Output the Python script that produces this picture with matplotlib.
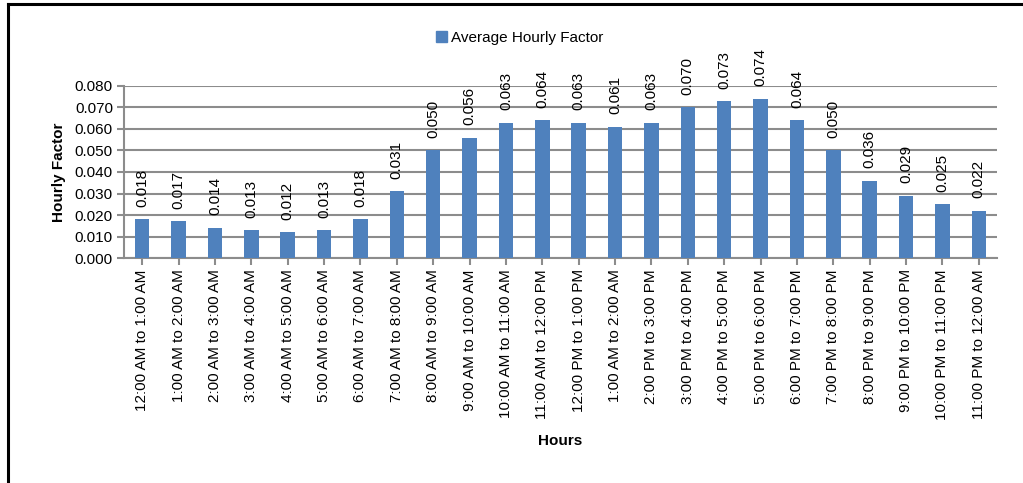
import matplotlib.pyplot as plt
from matplotlib.lines import Line2D
from matplotlib.patches import Patch

plt.rcParams["font.family"] = ["Liberation Sans", "DejaVu Sans"]

HOURS = [
    "12:00 AM to 1:00 AM", "1:00 AM to 2:00 AM", "2:00 AM to 3:00 AM",
    "3:00 AM to 4:00 AM", "4:00 AM to 5:00 AM", "5:00 AM to 6:00 AM",
    "6:00 AM to 7:00 AM", "7:00 AM to 8:00 AM", "8:00 AM to 9:00 AM",
    "9:00 AM to 10:00 AM", "10:00 AM to 11:00 AM", "11:00 AM to 12:00 PM",
    "12:00 PM to 1:00 PM", "1:00 AM to 2:00 AM", "2:00 PM to 3:00 PM",
    "3:00 PM to 4:00 PM", "4:00 PM to 5:00 PM", "5:00 PM to 6:00 PM",
    "6:00 PM to 7:00 PM", "7:00 PM to 8:00 PM", "8:00 PM to 9:00 PM",
    "9:00 PM to 10:00 PM", "10:00 PM to 11:00 PM", "11:00 PM to 12:00 AM",
]
FACTORS = [
    0.018, 0.017, 0.014, 0.013, 0.012, 0.013, 0.018, 0.031,
    0.050, 0.056, 0.063, 0.064, 0.063, 0.061, 0.063, 0.070,
    0.073, 0.074, 0.064, 0.050, 0.036, 0.029, 0.025, 0.022,
]
Y_TICKS = [0.0, 0.01, 0.02, 0.03, 0.04, 0.05, 0.06, 0.07, 0.08]

BAR_COLOR = "#4F81BD"
GRID_COLOR = "#8C8C8C"

fig = plt.figure(figsize=(10.23, 4.83), dpi=100)
ax = fig.add_axes([0.1212, 0.4658, 0.8534, 0.3562])

x = list(range(len(HOURS)))
ax.bar(x, FACTORS, width=0.4, color=BAR_COLOR, zorder=3)

for xi, v in zip(x, FACTORS):
    ax.annotate(f"{v:.3f}", (xi, v), xytext=(0, 9), textcoords="offset points",
                rotation=90, ha="center", va="bottom", fontsize=11)

ax.set_xlim(-0.5, len(HOURS) - 0.5)
ax.set_ylim(0, 0.08)
ax.set_yticks(Y_TICKS)
ax.set_yticklabels([f"{t:.3f}" for t in Y_TICKS], fontsize=11)
ax.set_xticks(x)
ax.set_xticklabels(HOURS, rotation=90, fontsize=11)

ax.grid(axis="y", color=GRID_COLOR, linewidth=1.5, zorder=0)
for side in ["top", "right"]:
    ax.spines[side].set_visible(False)
for side in ["left", "bottom"]:
    ax.spines[side].set_color(GRID_COLOR)
    ax.spines[side].set_linewidth(1.5)
ax.tick_params(axis="both", color=GRID_COLOR, width=1.5, length=5, pad=3)

ax.set_ylabel("Hourly Factor", fontsize=11, fontweight="bold", labelpad=6)
ax.set_xlabel("Hours", fontsize=11, fontweight="bold", labelpad=10)

handles = [Patch(color=BAR_COLOR, label="Average Hourly Factor")]
fig.legend(handles=handles, loc="center", bbox_to_anchor=(0.508, 0.921),
           frameon=False, fontsize=11, handlelength=0.7, handleheight=0.7,
           handletextpad=0.3)

# outer frame (top and left edges only)
fig.add_artist(Line2D([0.008, 1.0], [0.991, 0.991], color="black", lw=2.2,
                      transform=fig.transFigure))
fig.add_artist(Line2D([0.008, 0.008], [0.0, 0.991], color="black", lw=2.2,
                      transform=fig.transFigure))

fig.savefig("out.png", dpi=100)
